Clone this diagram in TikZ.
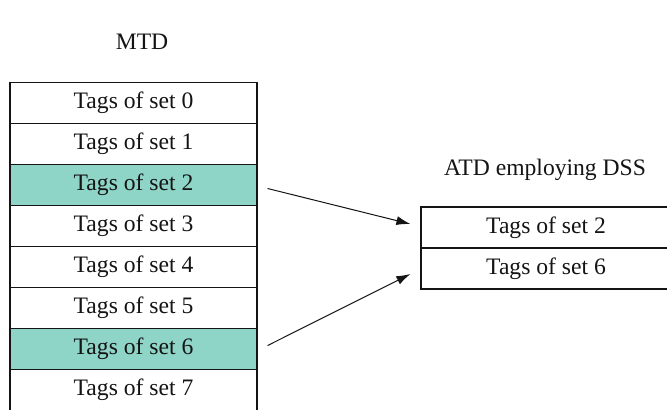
\documentclass[tikz,border=0pt]{standalone}
\usepackage{fontspec}
\setmainfont{Liberation Serif}
\usetikzlibrary{positioning,arrows.meta}
\definecolor{tealfill}{RGB}{142,212,199}
\definecolor{inkblack}{RGB}{20,20,20}

\tikzset{
  tagrow/.style={draw=inkblack,line width=0.6pt,minimum width=123.5pt,
                 minimum height=20.5pt,inner sep=0pt,text=inkblack,
                 font=\fontsize{11.8}{13}\selectfont},
  hitrow/.style={tagrow,fill=tealfill},
  maplink/.style={draw=inkblack,line width=0.5pt,
                  -{Latex[length=7pt,width=4.5pt]}}
}

\begin{document}
\begin{tikzpicture}[x=0.5pt,y=-0.5pt]
        \clip (0,0) rectangle (667,409);
        \fill[white] (0,0) rectangle (667,409);
        % main tag directory
        \node[font=\fontsize{11.8}{13}\selectfont,text=inkblack] (mtdtitle) at (142,42) {MTD};
        \foreach \i in {0,...,7}{
          \ifnum\i=2 \def\rowstyle{hitrow}\else
          \ifnum\i=6 \def\rowstyle{hitrow}\else \def\rowstyle{tagrow}\fi\fi
          \node[\rowstyle] (mtd\i) at (133.5,{103+41*\i}) {Tags of set \i};
        }
        % auxiliary tag directory
        \node[font=\fontsize{11.8}{13}\selectfont,text=inkblack] (atdtitle) at (545,170) {ATD employing DSS};
        \node[tagrow,minimum width=125pt] (atd2) at (546,227.5) {Tags of set 2};
        \node[tagrow,minimum width=125pt] (atd6) at (546,268.5) {Tags of set 6};
        \draw[maplink] ([shift={(10,3.5)}]mtd2.east) -- ([shift={(-10,-3.5)}]atd2.west);
        \draw[maplink] ([shift={(10,-3.5)}]mtd6.east) -- ([shift={(-10,5.5)}]atd6.west);
      \end{tikzpicture}
\end{document}
